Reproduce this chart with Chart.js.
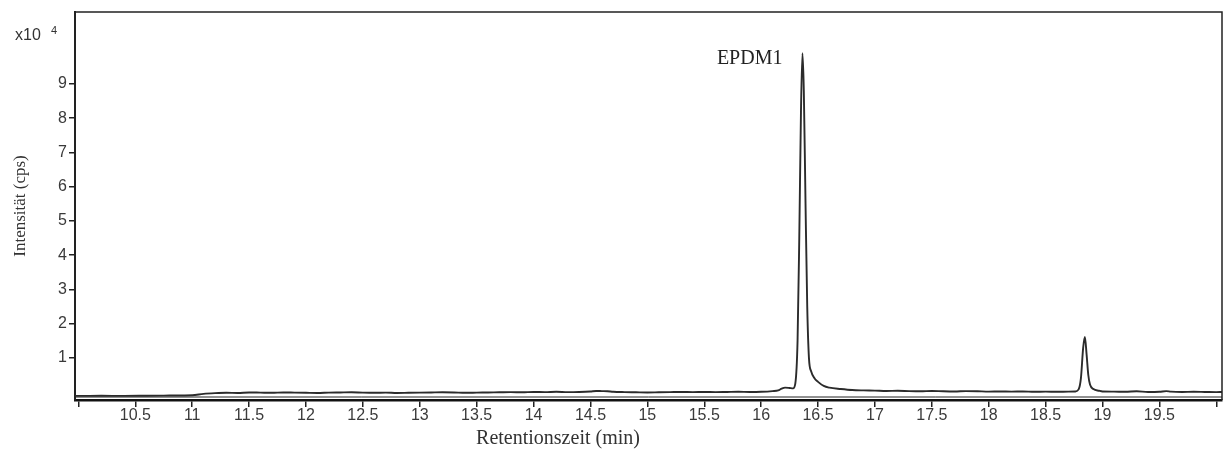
<!DOCTYPE html>
<html>
<head>
<meta charset="utf-8">
<script src="https://cdn.jsdelivr.net/npm/chart.js@4.4.1/dist/chart.umd.min.js"></script>
<style>
  body { margin: 0; background: #fff; }
  canvas { display: block; }
</style>
</head>
<body>
<canvas id="chart" width="1227" height="453"></canvas>
<script>
// retention time (min) and intensity (cps)
const retentionTime = [
    9.97, 10.0, 10.2, 10.4, 10.6, 10.8, 11.0, 11.1, 11.2, 11.3, 11.4, 11.5, 11.6, 11.7, 11.8, 11.9,
    12.0, 12.1, 12.2, 12.3, 12.4, 12.5, 12.6, 12.7, 12.8, 12.9, 13.0, 13.1, 13.2, 13.3, 13.4,
    13.5, 13.6, 13.7, 13.8, 13.9, 14.0, 14.1, 14.2, 14.3, 14.4, 14.5, 14.55, 14.6, 14.65, 14.7,
    14.8, 14.9, 15.0, 15.1, 15.2, 15.3, 15.4, 15.5, 15.6, 15.7, 15.8, 15.9, 16.0, 16.1,
    16.15, 16.18, 16.21, 16.25, 16.28, 16.30, 16.32, 16.335, 16.35, 16.363, 16.375, 16.39,
    16.405, 16.42, 16.44, 16.47, 16.50, 16.55, 16.60, 16.70, 16.80, 16.90,
    17.0, 17.1, 17.2, 17.3, 17.4, 17.5, 17.6, 17.7, 17.8, 17.9, 18.0, 18.1, 18.2, 18.3,
    18.4, 18.5, 18.6, 18.7, 18.76, 18.79, 18.81, 18.83, 18.845, 18.86, 18.875, 18.89, 18.92, 18.97,
    19.0, 19.1, 19.2, 19.3, 19.4, 19.5, 19.56, 19.6, 19.7, 19.8, 19.9, 20.0, 20.05
];
const intensity = [
    -1100, -1100, -1080, -1100, -1050, -1000, -900, -500, -300, -200, -250, -100, -150, -200, -100, -150,
    -200, -250, -150, -100, -50, -150, -200, -150, -250, -200, -150, -100, -50, -100, -200,
    -150, -100, -50, 0, -50, 50, 0, 100, 0, 50, 200, 350, 300, 250, 100,
    0, -50, -100, -50, 0, 50, 0, 50, 0, 50, 100, 50, 100, 300,
    500, 1000, 1300, 1200, 1100, 2500, 15000, 45000, 82000, 99000, 88000, 55000,
    25000, 10000, 6000, 4000, 3000, 1800, 1300, 900, 600, 500,
    450, 350, 400, 300, 250, 350, 250, 200, 300, 250, 150, 200, 150, 200,
    100, 150, 100, 150, 200, 800, 4000, 13000, 16100, 11000, 5000, 2200, 900, 400,
    200, 150, 100, 250, 50, 100, 300, 150, 50, 100, 50, 0, 50
];

const xTicks = [10, 10.5, 11, 11.5, 12, 12.5, 13, 13.5, 14, 14.5, 15, 15.5, 16, 16.5, 17, 17.5, 18, 18.5, 19, 19.5, 20];
const yTicks = [10000, 20000, 30000, 40000, 50000, 60000, 70000, 80000, 90000];

const peakLabel = { text: 'EPDM1', x: 16.363, y: 99000 };

const points = retentionTime.map((t, i) => ({ x: t, y: intensity[i] }));

const extras = {
    id: 'extras',
    afterDraw(chart) {
        const ctx = chart.ctx;
        const a = chart.chartArea;
        ctx.save();
        // frame top and right
        ctx.strokeStyle = '#222';
        ctx.lineWidth = 1.5;
        ctx.beginPath();
        ctx.moveTo(a.left, a.top);
        ctx.lineTo(a.right, a.top);
        ctx.lineTo(a.right, a.bottom);
        ctx.stroke();
        // inner bottom line (double line look)
        ctx.lineWidth = 1;
        ctx.beginPath();
        ctx.moveTo(a.left, a.bottom - 3);
        ctx.lineTo(a.right, a.bottom - 3);
        ctx.stroke();

        // x10^4
        ctx.fillStyle = '#333';
        ctx.font = '16px "Liberation Sans", Arial, sans-serif';
        ctx.textBaseline = 'alphabetic';
        ctx.fillText('x10', 15, 40);
        ctx.font = '11px "Liberation Sans", Arial, sans-serif';
        ctx.fillText('4', 51, 34);

        // y axis title
        ctx.save();
        ctx.translate(25, 206);
        ctx.rotate(-Math.PI / 2);
        ctx.textAlign = 'center';
        ctx.font = '17px "Liberation Serif", "Times New Roman", serif';
        ctx.fillText('Intensität (cps)', 0, 0);
        ctx.restore();

        // peak label
        const px = chart.scales.x.getPixelForValue(peakLabel.x);
        const py = chart.scales.y.getPixelForValue(peakLabel.y);
        ctx.fillStyle = '#222';
        ctx.font = '20px "Liberation Serif", "Times New Roman", serif';
        ctx.textAlign = 'right';
        ctx.fillText(peakLabel.text, px - 20, py + 11);

        // x axis title
        ctx.textAlign = 'center';
        ctx.font = '20px "Liberation Serif", "Times New Roman", serif';
        ctx.fillStyle = '#333';
        ctx.fillText('Retentionszeit (min)', 558, 444);
        ctx.restore();
    }
};

new Chart('chart', {
    type: 'scatter',
    data: {
        datasets: [{
            data: points,
            showLine: true,
            borderColor: '#2b2b2b',
            borderWidth: 1.9,
            pointRadius: 0,
            cubicInterpolationMode: 'monotone'
        }]
    },
    options: {
        responsive: false,
        animation: false,
        layout: { padding: { top: 12, right: 5, left: 0, bottom: 0 } },
        plugins: {
            legend: { display: false },
            tooltip: { enabled: false }
        },
        scales: {
            x: {
                type: 'linear',
                min: 9.97,
                max: 20.05,
                afterBuildTicks: s => { s.ticks = xTicks.map(v => ({ value: v })); },
                afterFit: s => { s.height = 53; },
                ticks: {
                    autoSkip: false,
                    maxRotation: 0,
                    padding: -1,
                    color: '#3a3a3a',
                    font: { family: '"Liberation Sans", Arial, sans-serif', size: 16 },
                    callback: v => (v === 10 || v === 20) ? '' : String(v)
                },
                grid: { drawOnChartArea: false, tickLength: 7, color: '#222', lineWidth: 1.5 },
                border: { color: '#111', width: 2.5 }
            },
            y: {
                min: -2300,
                max: 111000,
                afterBuildTicks: s => { s.ticks = yTicks.map(v => ({ value: v })); },
                afterFit: s => { s.width = 75; },
                ticks: {
                    padding: 2,
                    color: '#3a3a3a',
                    font: { family: '"Liberation Sans", Arial, sans-serif', size: 16 },
                    callback: v => String(v / 10000)
                },
                grid: { drawOnChartArea: false, tickLength: 6, color: '#222', lineWidth: 1.5 },
                border: { color: '#222', width: 2 }
            }
        }
    },
    plugins: [extras]
});
</script>
</body>
</html>
